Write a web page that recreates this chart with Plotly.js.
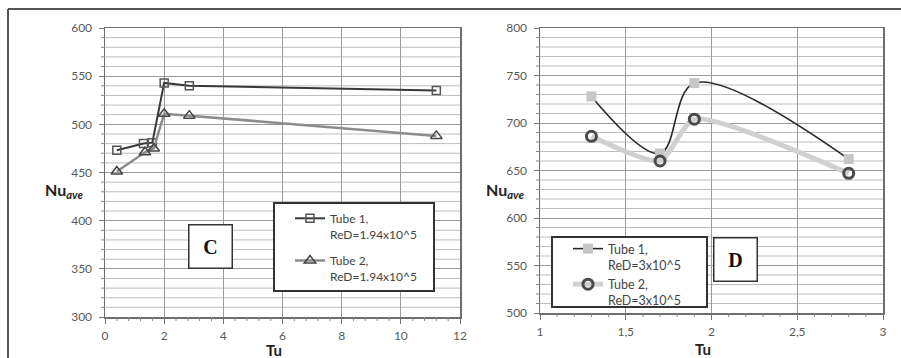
<!DOCTYPE html>
<html>
<head>
<meta charset="utf-8">
<script src="https://cdn.plot.ly/plotly-3.0.1.min.js"></script>
<style>html,body{margin:0;padding:0;background:#fff}#chart{width:901px;height:358px}</style>
</head>
<body>
<div id="chart"></div>
<script>
// ---- Data: panel C ----
const tuC_tube1 = [0.4, 1.3, 1.6, 2.0, 2.85, 11.2];
const nuC_tube1 = [473, 480, 481, 543, 540, 535];
const tuC_tube2 = [0.4, 1.35, 1.65, 2.0, 2.85, 11.2];
const nuC_tube2 = [451, 471, 475, 511, 509, 488];
const nameC_tube1 = "Tube 1,<br>ReD=1.94x10^5";
const nameC_tube2 = "Tube 2,<br>ReD=1.94x10^5";
const xTicksC = [0, 2, 4, 6, 8, 10, 12];
const xTickTextC = ["0", "2", "4", "6", "8", "10", "12"];

// ---- Data: panel D ----
const tuD_tube1 = [1.3, 1.7, 1.9, 2.8];
const nuD_tube1 = [728, 668, 742, 662];
const tuD_tube2 = [1.3, 1.7, 1.9, 2.8];
const nuD_tube2 = [686, 660, 704, 647];
const nameD_tube1 = "Tube 1,<br>ReD=3x10^5";
const nameD_tube2 = "Tube 2,<br>ReD=3x10^5";
const xTicksD = [1, 1.5, 2, 2.5, 3];
const xTickTextD = ["1", "1,5", "2", "2,5", "3"];

const W = 901, H = 358;
const px = x => x / W;
const py = y => 1 - y / H;

// minor tick positions (unlabelled), skipping the major ones
function minorVals(lo, hi, step, major) {
  const out = [];
  const n = Math.round((hi - lo) / step);
  for (let i = 1; i < n; i++) {
    const v = +(lo + i * step).toFixed(6);
    const r = (v - lo) / major;
    if (Math.abs(r - Math.round(r)) > 1e-6) out.push(v);
  }
  return out;
}

const tickFont = {family: "Lato, 'Open Sans', sans-serif", size: 12, color: "#595959"};

const traces = [
  {x: tuC_tube1, y: nuC_tube1, name: nameC_tube1, xaxis: "x", yaxis: "y", mode: "lines+markers",
   legend: "legend", legendgroup: "c1",
   line: {color: "#383838", width: 2},
   marker: {symbol: "square-open", size: 8, color: "#555", line: {width: 1.5, color: "#555"}}},
  {x: tuC_tube2, y: nuC_tube2, name: nameC_tube2, xaxis: "x", yaxis: "y", mode: "lines+markers",
   legend: "legend", legendgroup: "c2",
   line: {color: "#8c8c8c", width: 2.5},
   marker: {symbol: "triangle-up-open", size: 10, color: "#444", line: {width: 1.5, color: "#444"}}},
  {x: tuD_tube1, y: nuD_tube1, name: nameD_tube1, xaxis: "x2", yaxis: "y2", mode: "lines+markers",
   legend: "legend2",
   line: {color: "#2a2a2a", width: 1.6, shape: "spline", smoothing: 1},
   marker: {symbol: "square", size: 10, color: "#c6c6c6", line: {width: 0}}},
  {x: tuD_tube2, y: nuD_tube2, name: nameD_tube2, xaxis: "x2", yaxis: "y2", mode: "lines+markers",
   legend: "legend2",
   line: {color: "#d0d0d0", width: 5, shape: "spline", smoothing: 0.6},
   marker: {symbol: "circle-open", size: 10, color: "#4a4a4a", line: {width: 3, color: "#4a4a4a"}}}
];

function yAxis(range, domain, anchor) {
  return {
    range: range, domain: domain, anchor: anchor, tickmode: "linear", dtick: 50, tick0: 0,
    showgrid: true, gridcolor: "#9a9a9a", gridwidth: 1,
    ticks: "outside", ticklen: 5, tickcolor: "#777", tickfont: tickFont,
    ticklabelstandoff: 4,
    showline: true, linecolor: "#6e6e6e", linewidth: 1.5, mirror: true,
    zeroline: false, fixedrange: true
  };
}
function xAxis(range, domain, anchor, tv, tt) {
  return {
    range: range, domain: domain, anchor: anchor, tickmode: "array", tickvals: tv, ticktext: tt,
    showgrid: true, gridcolor: "#9a9a9a", gridwidth: 1,
    ticks: "outside", ticklen: 5, tickcolor: "#777", tickfont: tickFont,
    ticklabelstandoff: 2,
    showline: true, linecolor: "#6e6e6e", linewidth: 1.5, mirror: true,
    zeroline: false, fixedrange: true
  };
}

// minor gridlines + minor tick marks drawn as axis-referenced shapes
function minorShapes(xa, ya, yRange, xRange, xStep, xMajor) {
  const s = [];
  minorVals(yRange[0], yRange[1], 10, 50).forEach(v => {
    s.push({type: "line", xref: xa + " domain", yref: ya, x0: 0, x1: 1, y0: v, y1: v,
            line: {color: "#bdbdbd", width: 1}, layer: "below"});
    s.push({type: "line", xref: xa + " domain", yref: ya, xsizemode: "pixel", xanchor: 0,
            x0: -4, x1: 0, y0: v, y1: v, line: {color: "#888", width: 1}, layer: "above"});
  });
  minorVals(xRange[0], xRange[1], xStep, xMajor).forEach(v => {
    s.push({type: "line", xref: xa, yref: ya + " domain", ysizemode: "pixel", yanchor: 0,
            x0: v, x1: v, y0: -4, y1: 0, line: {color: "#888", width: 1}, layer: "above"});
  });
  return s;
}

const titleFont = {family: "Lato, 'Open Sans', sans-serif", size: 16, color: "#222"};

const shapes = [].concat(
  minorShapes("x", "y", [300, 600], [0, 12], 0.4, 2),
  minorShapes("x2", "y2", [500, 800], [1, 3], 0.1, 0.5),
  [
    {type: "line", xref: "paper", yref: "paper", x0: px(8), x1: 1, y0: py(9), y1: py(9), line: {color: "#555", width: 2}},
    {type: "line", xref: "paper", yref: "paper", x0: px(8), x1: px(8), y0: py(9), y1: 0, line: {color: "#555", width: 2}},
    {type: "rect", xref: "paper", yref: "paper", x0: px(274), x1: px(434), y0: py(291), y1: py(203),
     fillcolor: "#fff", line: {color: "#333", width: 2}, layer: "above"},
    {type: "rect", xref: "paper", yref: "paper", x0: px(552), x1: px(707), y0: py(307), y1: py(237),
     fillcolor: "#fff", line: {color: "#333", width: 2}, layer: "above"}
  ]
);

const layout = {
  width: W, height: H,
  margin: {l: 0, r: 0, t: 0, b: 0},
  paper_bgcolor: "#fff", plot_bgcolor: "#fff",
  showlegend: true,
  xaxis: xAxis([0, 12], [px(105), px(460)], "y", xTicksC, xTickTextC),
  yaxis: yAxis([300, 600], [py(317), py(28)], "x"),
  xaxis2: xAxis([1, 3], [px(540), px(883)], "y2", xTicksD, xTickTextD),
  yaxis2: yAxis([500, 800], [py(313), py(28)], "x2"),
  legend: {
    x: px(290), y: py(204), xanchor: "left", yanchor: "top",
    bgcolor: "rgba(0,0,0,0)", borderwidth: 0, valign: "top",
    traceorder: "grouped", tracegroupgap: 8,
    font: {family: "Lato, 'Open Sans', sans-serif", size: 12, color: "#444"}
  },
  legend2: {
    x: px(568), y: py(234), xanchor: "left", yanchor: "top",
    bgcolor: "rgba(0,0,0,0)", borderwidth: 0, valign: "top",
    traceorder: "normal",
    font: {family: "Lato, 'Open Sans', sans-serif", size: 12.5, color: "#444"}
  },
  shapes: shapes,
  annotations: [
    {xref: "paper", yref: "paper", x: px(210.5), y: py(246.5), text: "<b>C</b>", showarrow: false,
     font: {family: "'Liberation Serif', 'DejaVu Serif', serif", size: 20, color: "#111"},
     bgcolor: "#fff", bordercolor: "#333", borderwidth: 1.5, width: 42, height: 42, borderpad: 0,
     xanchor: "center", yanchor: "middle"},
    {xref: "paper", yref: "paper", x: px(735.5), y: py(259.5), text: "<b>D</b>", showarrow: false,
     font: {family: "'Liberation Serif', 'DejaVu Serif', serif", size: 20, color: "#111"},
     bgcolor: "#fff", bordercolor: "#333", borderwidth: 1.5, width: 42, height: 42, borderpad: 0,
     xanchor: "center", yanchor: "middle"},
    {xref: "paper", yref: "paper", x: px(64), y: py(190), text: "<b>Nu<sub><i>ave</i></sub></b>", showarrow: false,
     font: titleFont, xanchor: "center", yanchor: "middle"},
    {xref: "paper", yref: "paper", x: px(505), y: py(190), text: "<b>Nu<sub><i>ave</i></sub></b>", showarrow: false,
     font: titleFont, xanchor: "center", yanchor: "middle"},
    {xref: "paper", yref: "paper", x: px(274), y: py(350), text: "<b>Tu</b>", showarrow: false,
     font: {family: titleFont.family, size: 15, color: "#222"}, xanchor: "center", yanchor: "middle"},
    {xref: "paper", yref: "paper", x: px(703), y: py(349), text: "<b>Tu</b>", showarrow: false,
     font: {family: titleFont.family, size: 15, color: "#222"}, xanchor: "center", yanchor: "middle"}
  ]
};

Plotly.newPlot("chart", traces, layout, {displayModeBar: false, staticPlot: true});
</script>
</body>
</html>
